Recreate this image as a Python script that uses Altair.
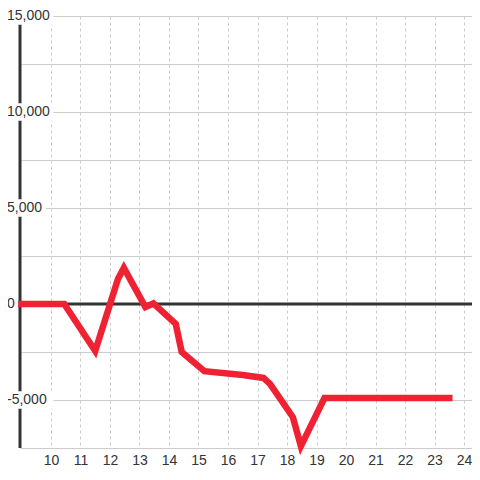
import altair as alt
import pandas as pd

# data
hours = [9, 10.45, 11.5, 12.27, 12.47, 13.2, 13.47, 14.23, 14.43, 15.2, 16.5, 17.2, 17.43, 18.2, 18.47, 19.27, 23.5]
values = [0, 0, -2450, 1300, 1880, -160, 30, -1040, -2500, -3500, -3700, -3850, -4170, -5900, -7400, -4900, -4900]
x_ticks = list(range(10, 25))
y_grid = [-7500, -5000, -2500, 0, 2500, 5000, 7500, 10000, 12500, 15000]
y_label_values = [15000, 10000, 5000, 0, -5000]
y_label_texts = ["15,000", "10,000", "5,000", "0", "-5,000"]

df = pd.DataFrame({"x": hours, "y": values})
labels = pd.DataFrame({"y": y_label_values, "label": y_label_texts})
zero = pd.DataFrame({"y": [0]})

FONT = "Liberation Sans"
GRID = "#cccccc"
DARK = "#333333"
RED = "#ee2233"
X0 = 8.95

xscale = alt.Scale(domain=[X0, 24.27], nice=False, zero=False)
yscale = alt.Scale(domain=[-7500, 15000], nice=False, zero=False)
xaxis = alt.Axis(values=x_ticks, grid=True, gridDash=[3, 3], gridColor=GRID, gridWidth=1,
                 ticks=False, domain=False, labelFont=FONT, labelFontSize=14, labelColor=DARK,
                 labelPadding=5, title=None, labelFlush=False)
yaxis = alt.Axis(values=y_grid, grid=True, gridColor=GRID, gridWidth=1, labels=False,
                 ticks=False, domain=False, title=None)

base_line = alt.Chart(df).mark_line(color=RED, strokeWidth=6.5, strokeCap="square",
                                    strokeJoin="miter").encode(
    x=alt.X("x:Q", scale=xscale, axis=xaxis),
    y=alt.Y("y:Q", scale=yscale, axis=yaxis),
)

zero_rule = alt.Chart(zero).mark_rule(color=DARK, strokeWidth=3).encode(
    y=alt.Y("y:Q", scale=yscale, axis=yaxis),
)

axis_rule = alt.Chart(zero).mark_rule(color=DARK, strokeWidth=3).encode(
    x=alt.X(datum=X0, scale=xscale, axis=xaxis),
)

boxes = alt.Chart(labels).transform_calculate(
    y1="datum.y - 450", y2="datum.y + 450",
    bx1="-15", bx2="-13 + length(datum.label) * 7.4 + 2",
).mark_rect(color="white").encode(
    x=alt.X("bx1:Q", scale=None),
    x2="bx2:Q",
    y=alt.Y("y1:Q", scale=yscale, axis=yaxis),
    y2="y2:Q",
)

texts = alt.Chart(labels).mark_text(align="left", baseline="middle", font=FONT, fontSize=14,
                                    color=DARK).encode(
    x=alt.value(-13),
    y=alt.Y("y:Q", scale=yscale, axis=yaxis),
    text="label:N",
)

chart = alt.layer(zero_rule, axis_rule, boxes, base_line, texts).properties(
    width=452, height=432,
    autosize=alt.AutoSizeParams(type="none"),
    padding={"left": 12, "top": 8, "right": 0, "bottom": 20},
    background="white",
).configure_view(stroke=None)

chart.save("out.html", embed_options={"renderer": "svg", "actions": False})
